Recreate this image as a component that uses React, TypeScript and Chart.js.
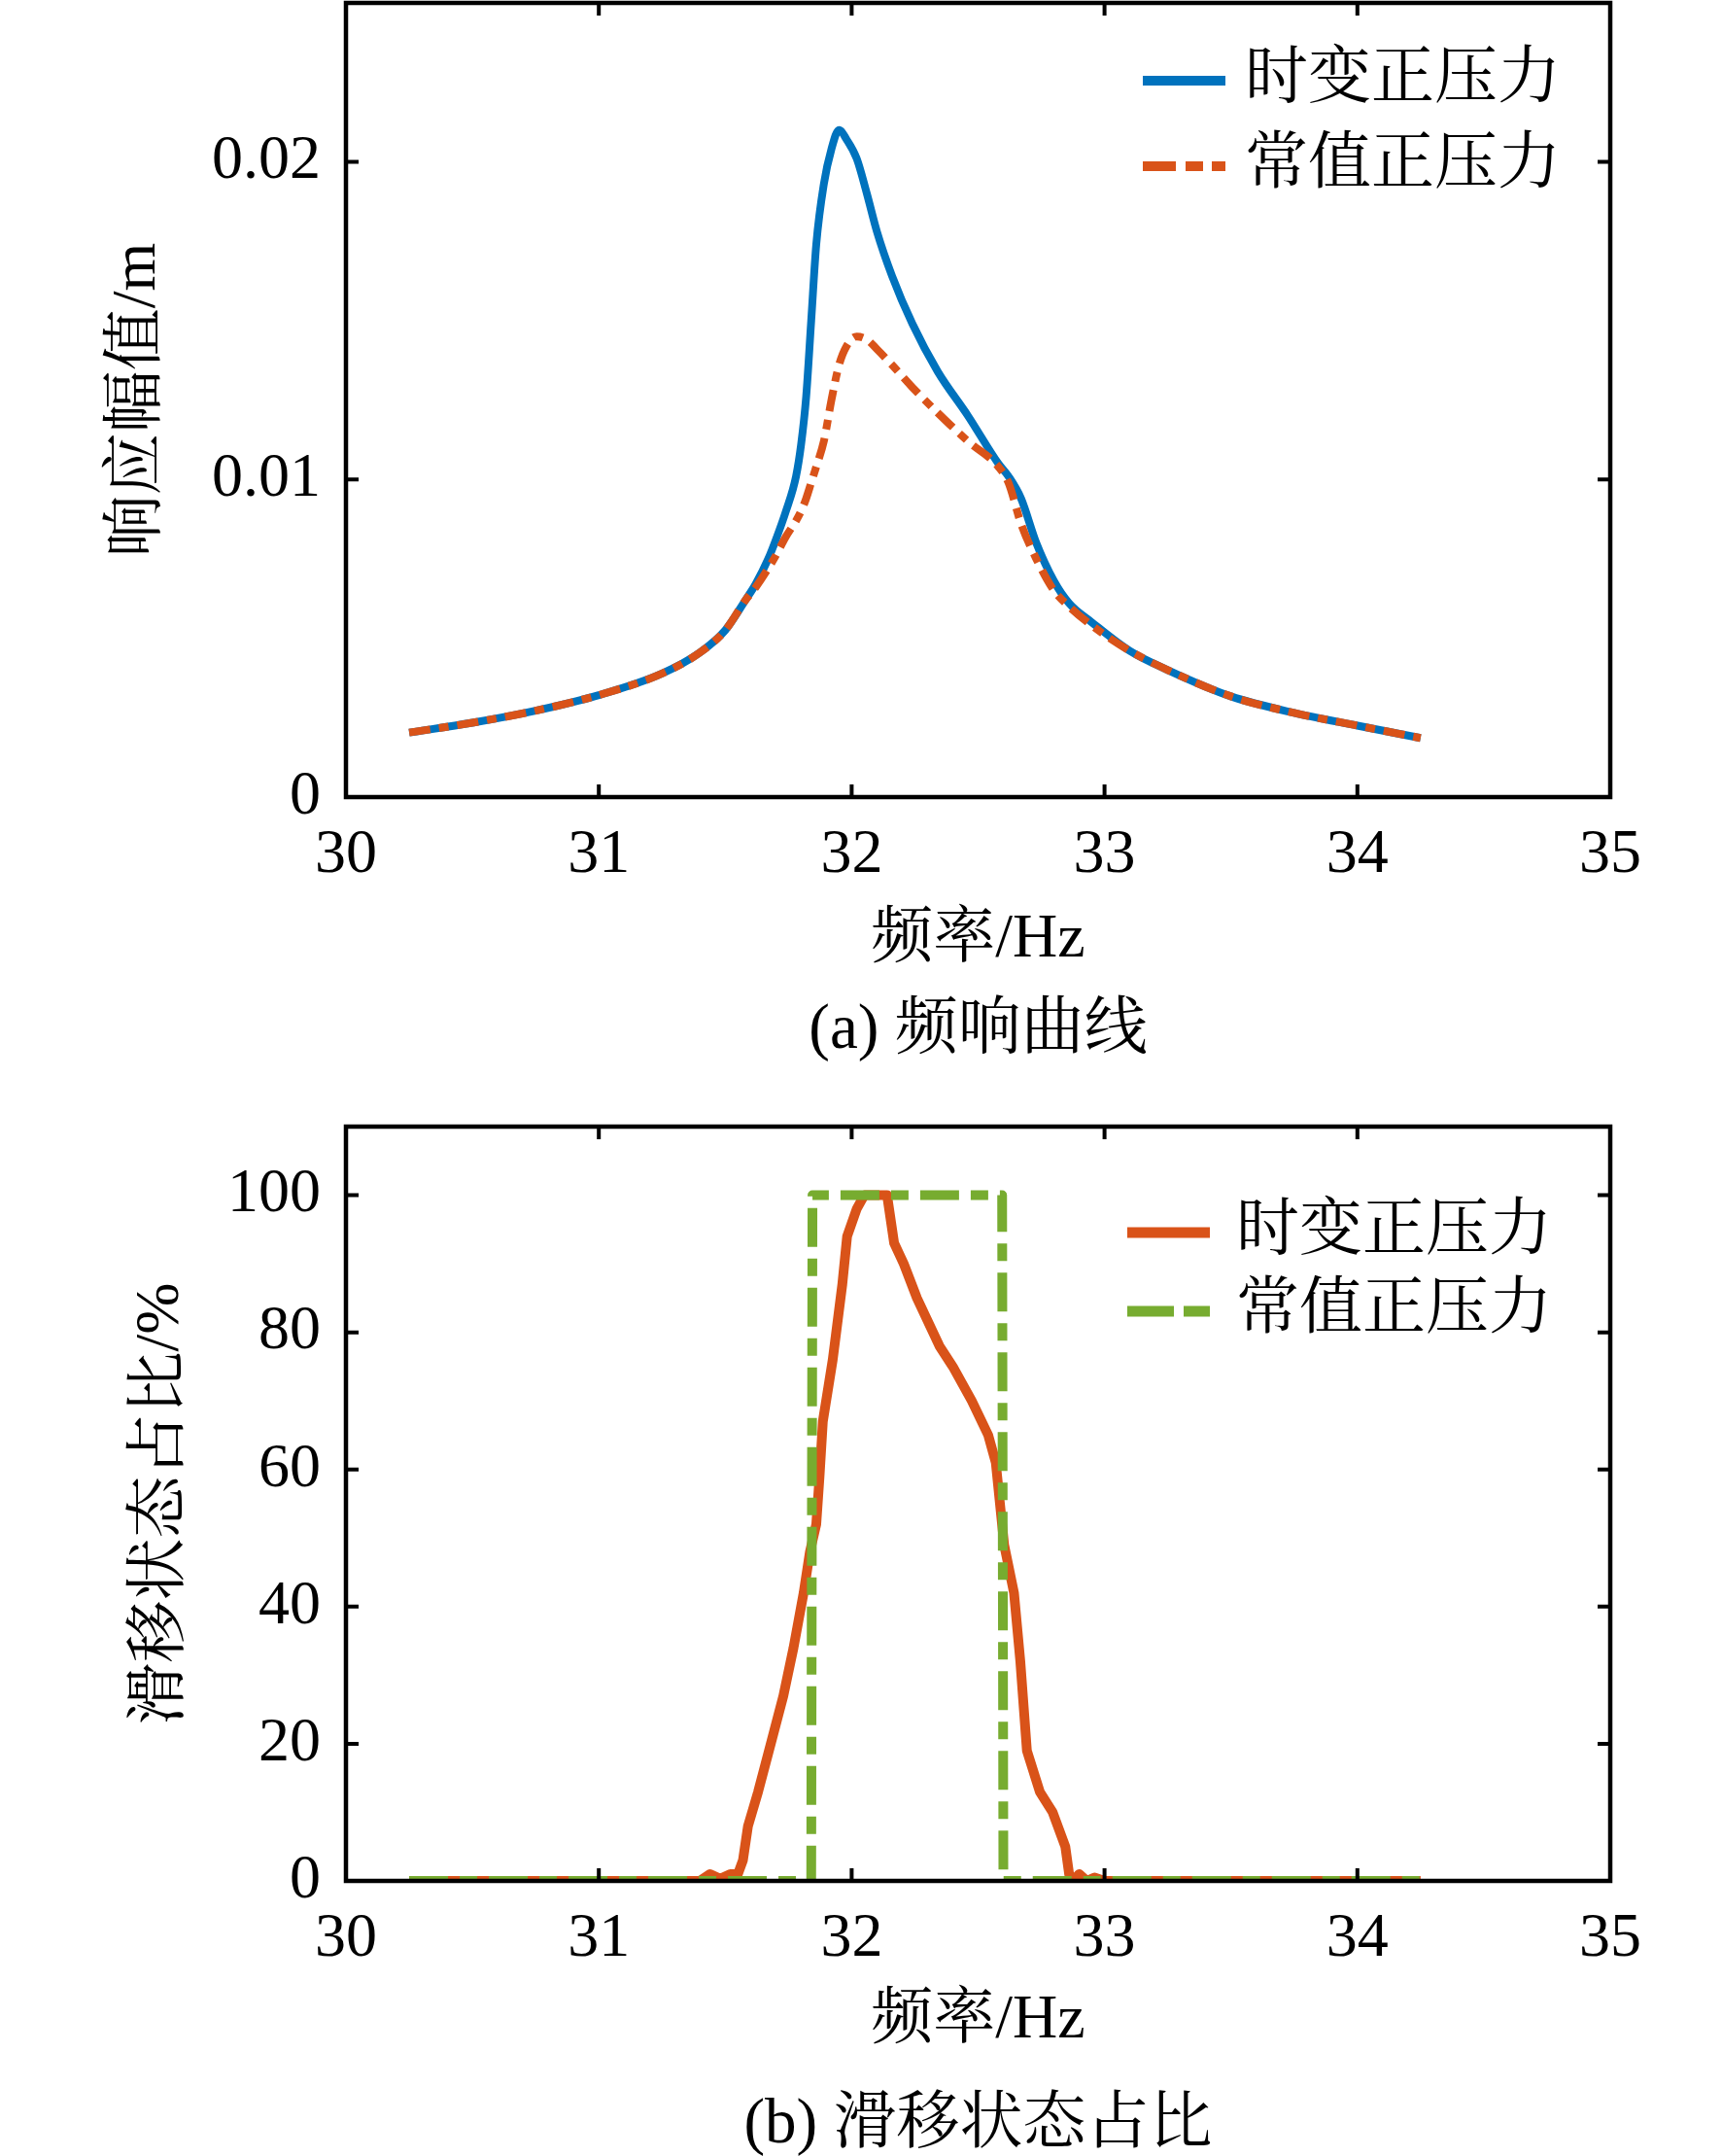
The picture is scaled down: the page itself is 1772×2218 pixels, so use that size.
import { useEffect, useRef } from 'react'
import { Chart, registerables } from 'chart.js'

Chart.register(...registerables)

// ---- data ----
const freqA = [
  30.25, 30.5, 30.75, 31.0, 31.25, 31.4, 31.5, 31.58, 31.62, 31.67, 31.7, 31.74, 31.78, 31.8,
  31.82, 31.84, 31.86, 31.89, 31.92, 31.95, 31.98, 32.02, 32.06, 32.1, 32.16, 32.24, 32.34,
  32.46, 32.58, 32.62, 32.67, 32.73, 32.8, 32.86, 32.95, 33.1, 33.25, 33.5, 33.75, 34.0, 34.25
]
// 时变正压力 response amplitude (m)
const ampVarying = [
  0.00203, 0.00234, 0.00272, 0.00321, 0.00389, 0.00455, 0.00525, 0.0062, 0.0067, 0.0075, 0.0081,
  0.009, 0.0101, 0.0111, 0.0126, 0.015, 0.0174, 0.0193, 0.0204, 0.021, 0.0207, 0.0201, 0.019,
  0.0178, 0.0164, 0.0149, 0.0134, 0.012, 0.0105, 0.0101, 0.0094, 0.008, 0.0068, 0.0061, 0.0055,
  0.0046, 0.004, 0.00317, 0.00265, 0.00225, 0.00186
]
// 常值正压力 response amplitude (m)
const ampConstant = [
  0.00203, 0.00234, 0.00272, 0.00321, 0.00389, 0.00455, 0.00525, 0.0062, 0.0066, 0.0072, 0.0076,
  0.0082, 0.0087, 0.009, 0.0094, 0.0099, 0.0104, 0.0112, 0.0125, 0.0136, 0.0142, 0.0145, 0.0144,
  0.0141, 0.0136, 0.0129, 0.0121, 0.0112, 0.0104, 0.0099, 0.0086, 0.0075, 0.0065, 0.006, 0.0054,
  0.0046, 0.004, 0.00317, 0.00265, 0.00225, 0.00186
]

// slip-state ratio (%)
const freqSlipVarying = [
  30.25, 30.5, 30.75, 31.0, 31.25, 31.4, 31.44, 31.48, 31.52, 31.55, 31.57, 31.59, 31.63, 31.68,
  31.73, 31.77, 31.81, 31.835, 31.86, 31.873, 31.886, 31.925, 31.963, 31.982, 32.02, 32.05, 32.14,
  32.168, 32.206, 32.258, 32.347, 32.4, 32.475, 32.54, 32.57, 32.603, 32.642, 32.667, 32.693,
  32.744, 32.795, 32.845, 32.86, 32.875, 32.9, 32.93, 32.96, 33.0, 33.5, 34.0, 34.25
]
const slipVarying = [
  0, 0, 0, 0, 0, 0, 1, 0.3, 1, 1, 3, 8, 13, 20, 27, 34, 42, 48, 52, 59, 67, 76, 87, 94, 98, 100,
  100, 93, 90, 85, 78, 75, 70, 65, 61, 49, 42, 32, 19, 13, 10, 5, 1, 0, 1, 0, 0.5, 0, 0, 0, 0
]
const freqSlipConstant = [30.25, 31.84, 31.845, 32.595, 32.6, 34.25]
const slipConstant = [0, 0, 100, 100, 0, 0]

const xTicks = [30, 31, 32, 33, 34, 35]
const xTickLabels = ['30', '31', '32', '33', '34', '35']
const yTicksA = [0, 0.01, 0.02]
const yTickLabelsA = ['0', '0.01', '0.02']
const yTicksB = [0, 20, 40, 60, 80, 100]
const yTickLabelsB = ['0', '20', '40', '60', '80', '100']

const seriesNames = ['时变正压力', '常值正压力']

const BLUE = '#0072BD'
const ORANGE = '#D95319'
const GREEN = '#77AC30'
const FONT =
  '"Liberation Serif", "Times New Roman", "Noto Serif CJK SC", "Noto Sans CJK SC", serif'
const FS = 64
const TICK_LEN = 13

const pts = (xs: number[], ys: number[]) => xs.map((x, i) => ({ x, y: ys[i] }))

// MATLAB-like box with inward ticks on all sides, plus the legend
const framePlugin = {
  id: 'frame',
  afterDraw(chart: any, _args: any, opts: any) {
    const { ctx, chartArea: a } = chart
    const { x, y } = chart.scales
    ctx.save()
    ctx.strokeStyle = '#000'
    ctx.lineWidth = 4
    ctx.beginPath()
    x.ticks.forEach((t: any) => {
      const px = x.getPixelForValue(t.value)
      ctx.moveTo(px, a.bottom)
      ctx.lineTo(px, a.bottom - TICK_LEN)
      ctx.moveTo(px, a.top)
      ctx.lineTo(px, a.top + TICK_LEN)
    })
    y.ticks.forEach((t: any) => {
      const py = y.getPixelForValue(t.value)
      ctx.moveTo(a.left, py)
      ctx.lineTo(a.left + TICK_LEN, py)
      ctx.moveTo(a.right, py)
      ctx.lineTo(a.right - TICK_LEN, py)
    })
    ctx.stroke()
    ctx.lineWidth = 4.5
    ctx.strokeRect(a.left, a.top, a.width, a.height)

    const lg = opts.legend
    if (lg) {
      ctx.font = `${FS + 1}px ${FONT}`
      ctx.textBaseline = 'middle'
      ctx.textAlign = 'left'
      ctx.fillStyle = '#000'
      chart.data.datasets.forEach((ds: any, row: number) => {
        const yy = a.top + lg.rows[row]
        ctx.strokeStyle = ds.borderColor
        ctx.lineWidth = lg.lineWidth
        ctx.setLineDash(lg.dash[row])
        ctx.beginPath()
        ctx.moveTo(a.right - lg.x0, yy)
        ctx.lineTo(a.right - lg.x1, yy)
        ctx.stroke()
        ctx.setLineDash([])
        ctx.fillText(ds.label, a.right - lg.tx, yy)
      })
    }
    ctx.restore()
  }
}

interface PanelCfg {
  datasets: any[]
  yMax: number
  yTicks: number[]
  yTickLabels: string[]
  yTitle: string
  yTitlePad: number
  topPad: number
  xHeight: number
  xTitlePad: number
  legend: any
  smooth: boolean
}

function makeChart(node: HTMLCanvasElement, cfg: PanelCfg) {
  const tickFont = { family: FONT, size: FS }
  return new Chart(node, {
    type: 'line',
    data: { datasets: cfg.datasets },
    plugins: [framePlugin],
    options: {
      responsive: false,
      animation: false,
      layout: { padding: { left: 0, right: 115, top: cfg.topPad, bottom: 0 } },
      elements: {
        point: { radius: 0 },
        line: {
          cubicInterpolationMode: cfg.smooth ? 'monotone' : 'default',
          tension: 0,
          borderJoinStyle: 'round'
        }
      },
      plugins: {
        legend: { display: false },
        tooltip: { enabled: false },
        frame: { legend: cfg.legend }
      } as any,
      scales: {
        x: {
          type: 'linear',
          min: 30,
          max: 35,
          afterBuildTicks: (s: any) => {
            s.ticks = xTicks.map(v => ({ value: v }))
          },
          afterFit: (s: any) => {
            s.height = cfg.xHeight
            s.paddingLeft = 0
            s.paddingRight = 0
          },
          ticks: {
            callback: (_v: any, i: number) => xTickLabels[i],
            padding: 22,
            maxRotation: 0,
            autoSkip: false,
            color: '#000',
            font: tickFont
          },
          grid: { display: false, drawTicks: false },
          border: { display: false },
          title: {
            display: true,
            text: '频率/Hz',
            color: '#000',
            font: tickFont,
            padding: { top: 0, bottom: cfg.xTitlePad }
          }
        },
        y: {
          type: 'linear',
          min: 0,
          max: cfg.yMax,
          afterBuildTicks: (s: any) => {
            s.ticks = cfg.yTicks.map(v => ({ value: v }))
          },
          afterFit: (s: any) => {
            s.width = 356
            s.paddingTop = 0
            s.paddingBottom = 0
          },
          ticks: {
            callback: (_v: any, i: number) => cfg.yTickLabels[i],
            padding: 26,
            autoSkip: false,
            color: '#000',
            font: tickFont
          },
          grid: { display: false, drawTicks: false },
          border: { display: false },
          title: {
            display: true,
            text: cfg.yTitle,
            color: '#000',
            font: tickFont,
            padding: { top: cfg.yTitlePad, bottom: 0 }
          }
        }
      }
    }
  })
}

export default function App() {
  const refA = useRef<HTMLCanvasElement>(null)
  const refB = useRef<HTMLCanvasElement>(null)

  useEffect(() => {
    if (!refA.current || !refB.current) return

    const chartA = makeChart(refA.current, {
      datasets: [
        {
          label: seriesNames[0],
          data: pts(freqA, ampVarying),
          borderColor: BLUE,
          borderWidth: 8,
          order: 2
        },
        {
          label: seriesNames[1],
          data: pts(freqA, ampConstant),
          borderColor: ORANGE,
          borderWidth: 8,
          borderDash: [22, 9, 10, 9],
          order: 1
        }
      ],
      yMax: 0.025,
      yTicks: yTicksA,
      yTickLabels: yTickLabelsA,
      yTitle: '响应幅值/m',
      yTitlePad: 104,
      topPad: 3,
      xHeight: 280,
      xTitlePad: 94,
      legend: {
        x0: 481,
        x1: 396,
        tx: 376,
        rows: [80, 168],
        lineWidth: 10,
        dash: [[], [34, 10, 18, 9, 19, 10]]
      },
      smooth: true
    })

    const chartB = makeChart(refB.current, {
      datasets: [
        {
          label: seriesNames[0],
          data: pts(freqSlipVarying, slipVarying),
          borderColor: ORANGE,
          borderWidth: 10,
          order: 2
        },
        {
          label: seriesNames[1],
          data: pts(freqSlipConstant, slipConstant),
          borderColor: GREEN,
          borderWidth: 10,
          borderDash: [40, 12, 18, 12],
          order: 1
        }
      ],
      yMax: 110,
      yTicks: yTicksB,
      yTickLabels: yTickLabelsB,
      yTitle: '滑移状态占比/%',
      yTitlePad: 128,
      topPad: 59,
      xHeight: 283,
      xTitlePad: 100,
      legend: {
        x0: 497,
        x1: 412,
        tx: 385,
        rows: [109, 190],
        lineWidth: 11,
        dash: [[], [48, 10, 30, 10]]
      },
      smooth: false
    })

    return () => {
      chartA.destroy()
      chartB.destroy()
    }
  }, [])

  const caption: React.CSSProperties = {
    position: 'absolute',
    left: 0,
    width: 2013,
    textAlign: 'center',
    fontFamily: FONT,
    fontSize: FS + 1,
    lineHeight: '78px',
    color: '#000',
    whiteSpace: 'nowrap'
  }

  return (
    <div style={{ position: 'absolute', left: 0, top: 0, width: 1772, height: 2218, background: '#fff' }}>
      <canvas
        ref={refA}
        width={1772}
        height={1100}
        style={{ position: 'absolute', left: 0, top: 0, width: 1772, height: 1100 }}
      />
      <div style={{ ...caption, top: 1017 }}>(a) 频响曲线</div>
      <canvas
        ref={refB}
        width={1772}
        height={1118}
        style={{ position: 'absolute', left: 0, top: 1100, width: 1772, height: 1118 }}
      />
      <div style={{ ...caption, top: 2143 }}>(b) 滑移状态占比</div>
    </div>
  )
}
